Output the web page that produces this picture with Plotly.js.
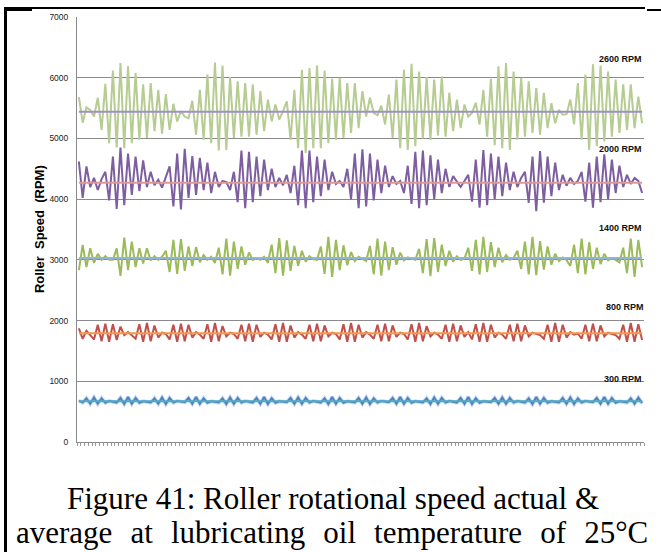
<!DOCTYPE html>
<html><head><meta charset="utf-8">
<script src="https://cdn.plot.ly/plotly-3.0.1.min.js"></script>
<style>
html,body{margin:0;padding:0;background:#fff;}
#wrap{position:relative;width:661px;height:552px;overflow:hidden;background:#fff;}
#chart{position:absolute;left:0;top:0;width:661px;height:552px;}
.bar{position:absolute;background:#000;}
</style></head><body>
<div id="wrap">
<div id="chart"></div>
<div class="bar" style="left:4px;top:8px;width:3px;height:544px"></div>
<div class="bar" style="left:4px;top:7px;width:641px;height:2px"></div>
<div class="bar" style="left:4px;top:8px;width:28px;height:3px"></div>
<div class="bar" style="left:647px;top:9px;width:14px;height:2px"></div>
</div>
<script>
// ---- data ----
const seriesLabels = ["2600 RPM","2000 RPM","1400 RPM","800 RPM","300 RPM"];
const averages = [5440, 4270, 3030, 1790, 672];

const rpm2600 = [5680,5260,5510,5470,5360,5670,5140,5900,4920,6120,
 4850,6240,4840,6190,4920,6080,4980,5890,5010,5910,
 5120,5800,5080,5730,5140,5570,5280,5450,5360,5330,
 5620,5060,5800,4980,6050,4920,6250,4800,6200,4810,
 6010,5010,5940,5030,5910,5030,5890,5060,5780,5120,
 5640,5280,5560,5310,5450,5610,4980,5800,4840,6130,
 4760,6160,4840,6200,4840,6120,4920,5980,4980,6000,
 5010,5910,5090,5910,5170,5780,5360,5670,5420,5380,
 5540,5230,5720,5010,5970,4840,6130,4810,6230,4870,
 6100,5000,6010,4980,5970,5050,6020,5030,5750,5120,
 5640,5170,5560,5360,5420,5590,5230,5800,5030,5980,
 4890,6190,4840,6240,4810,6100,4980,6000,5030,5940,
 5090,5830,5060,5750,5170,5580,5250,5470,5390,5400,
 5640,5230,5910,4980,6050,4810,6220,4870,6200,4950,
 6100,5030,5970,5090,5890,5140,5890,5170,5690,5250];

const rpm2000 = [4620,4020,4540,4200,4350,4150,4330,4450,3980,4700,
 3840,4850,3900,4750,4070,4700,4130,4640,4200,4450,
 4230,4320,4190,4380,4540,3880,4750,3830,4830,4020,
 4710,4070,4680,4150,4600,4100,4450,4200,4300,4280,
 4150,4450,3950,4800,3850,4780,3950,4700,4050,4650,
 4150,4500,4200,4350,4230,4400,4100,4550,3900,4800,
 3850,4800,3950,4700,4050,4650,4150,4450,4250,4300,
 4200,4500,4000,4750,3850,4820,3880,4750,3980,4650,
 4100,4550,4200,4380,4250,4300,4100,4550,3920,4780,
 3850,4800,3900,4720,4000,4650,4100,4500,4200,4380,
 4280,4200,4300,4400,3960,4650,3860,4810,3900,4750,
 4000,4700,4050,4600,4150,4450,4200,4350,4450,3940,
 4700,3800,4790,3940,4700,4050,4600,4150,4400,4220,
 4350,4250,4300,4450,3960,4600,3860,4700,3950,4740,
 4000,4650,4100,4550,4200,4400,4250,4350,4300,4100];

const rpm1400 = [2830,3245,2880,3190,2950,3100,3000,3060,3000,3000,
 3190,2735,3366,2830,3300,2880,3190,2940,3190,2990,
 3060,3000,3050,3150,2800,3330,2770,3340,2820,3220,
 2900,3210,2960,3080,3000,3050,2950,3200,2760,3350,
 2740,3300,2850,3220,2920,3120,3000,3030,3000,3050,
 2950,3250,2780,3360,2740,3320,2820,3230,2900,3150,
 2970,3060,3010,3000,3220,2770,3380,2720,3330,2830,
 3240,2910,3130,2980,3050,3010,2980,3230,2760,3350,
 2740,3300,2830,3210,2920,3120,2990,3040,3020,3000,
 3180,2780,3340,2730,3360,2800,3250,2900,3150,2970,
 3060,3000,3020,3200,2820,3330,2760,3380,2800,3290,
 2880,3200,2960,3080,3000,3030,3150,2850,3300,2760,
 3380,2750,3310,2840,3220,2920,3100,2980,3040,3000,
 2900,3250,2780,3350,2760,3290,2850,3200,2930,3100,
 2990,3030,3000,2960,3200,2780,3350,2720,3330,2880];

const rpm800 = [1870,1700,1830,1760,1690,1930,1660,1950,1650,1940,
 1680,1900,1760,1810,1760,1700,1940,1650,1960,1660,
 1920,1720,1800,1780,1690,1930,1650,1950,1660,1930,
 1720,1810,1770,1700,1940,1650,1960,1660,1910,1740,
 1800,1780,1700,1930,1660,1950,1650,1930,1730,1800,
 1770,1690,1940,1650,1960,1650,1920,1720,1810,1770,
 1700,1930,1660,1950,1660,1920,1740,1800,1780,1690,
 1940,1650,1960,1650,1930,1720,1810,1770,1700,1930,
 1660,1950,1660,1920,1730,1800,1780,1690,1940,1650,
 1960,1660,1910,1740,1800,1770,1700,1930,1650,1950,
 1660,1920,1730,1810,1690,1940,1650,1960,1650,1930,
 1720,1800,1770,1700,1930,1660,1950,1660,1920,1740,
 1800,1780,1760,1700,1930,1650,1960,1650,1930,1720,
 1810,1770,1790,1700,1930,1660,1950,1660,1920,1740,
 1800,1780,1760,1700,1930,1650,1960,1650,1940,1680];

const rpm300 = [680,650,720,630,735,630,720,645,675,660,
 650,725,625,740,630,725,645,670,665,650,
 720,630,735,625,725,650,675,660,655,725,
 630,740,630,720,645,670,665,650,720,625,
 735,630,725,650,675,660,650,725,630,740,
 625,720,645,670,665,655,725,630,735,630,
 725,650,675,660,650,720,625,740,630,725,
 645,670,660,650,725,630,735,625,720,650,
 675,665,655,725,630,740,630,725,645,670,
 660,650,720,625,735,630,725,650,675,660,
 650,725,630,740,625,720,645,670,665,655,
 725,630,735,630,725,650,675,660,650,720,
 625,740,630,725,645,670,665,650,725,630,
 735,625,720,650,675,660,655,725,630,740,
 630,725,645,670,660,650,720,630,730,640];

// ---- drawing ----
const actual = [rpm2600, rpm2000, rpm1400, rpm800, rpm300];
const actualColors = ["#b6cc91", "#7d5ea0", "#9bbb59", "#c0504d", "#4f81bd"];
const avgColors = ["#a08fc8", "#dc9896", "#95b3d7", "#f79646", "#4bacc6"];
const xs = rpm2600.map((_, k) => k + 1);

const traces = [];
actual.forEach((arr, s) => {
  if (s === 4) {
    traces.push({x: xs, y: arr, type: "scatter", mode: "lines",
      line: {color: "rgba(140,175,220,0.45)", width: 4}, hoverinfo: "skip"});
  }
  traces.push({x: xs, y: arr, type: "scatter", mode: "lines",
    line: {color: actualColors[s], width: 2}, name: seriesLabels[s]});
});
averages.forEach((v, s) => {
  traces.push({x: xs, y: xs.map(() => v), type: "scatter", mode: "lines",
    line: {color: avgColors[s], width: 2}, name: seriesLabels[s] + " avg"});
});

const labelY = [6308, 4826, 3525, 2224, 1038];
const labelX = [1.0, 1.0, 1.0, 1.0035, 1.0];
const annotations = seriesLabels.map((t, s) => ({
  text: "<b>" + t + "</b>", xref: "paper", yref: "y", x: labelX[s], y: labelY[s],
  xanchor: "right", yanchor: "middle", showarrow: false,
  font: {family: "Liberation Sans, Arial, sans-serif", size: 9, color: "#111"}
}));
annotations.push({
  text: "<b>Roller\u00a0 Speed\u00a0 (RPM)</b>", xref: "paper", yref: "paper",
  x: -0.067, y: 0.501, xanchor: "center", yanchor: "middle", textangle: -90,
  showarrow: false, font: {family: "Liberation Sans, Arial, sans-serif", size: 13, color: "#000"}
});
annotations.push({
  text: "Figure 41: Roller rotational speed actual &amp;", xref: "paper", yref: "paper",
  x: 0.4515, y: -0.132, xanchor: "center", yanchor: "middle", showarrow: false,
  font: {family: "Liberation Serif, 'Times New Roman', serif", size: 31, color: "#000"}
});
const sp = "\u2002\u200a";
annotations.push({
  text: ["average","at","lubricating","oil","temperature","of","25°C"].join(sp),
  xref: "paper", yref: "paper",
  x: 0.449, y: -0.212, xanchor: "center", yanchor: "middle", showarrow: false,
  font: {family: "Liberation Serif, 'Times New Roman', serif", size: 31, color: "#000"}
});

const layout = {
  width: 661, height: 552,
  margin: {l: 77, r: 17, t: 17, b: 110, pad: 0},
  paper_bgcolor: "rgba(0,0,0,0)", plot_bgcolor: "#fff",
  showlegend: false,
  font: {family: "Liberation Sans, Arial, sans-serif", size: 8.5, color: "#222"},
  xaxis: {range: [0.5, xs.length + 0.5], tickmode: "linear", tick0: 0.5, dtick: 1,
    ticks: "outside", ticklen: 3, tickcolor: "#9a9a9a", tickwidth: 1,
    showticklabels: false, showgrid: false, zeroline: false,
    showline: true, linecolor: "#8a8a8a", linewidth: 1},
  yaxis: {range: [0, 7000], tickmode: "linear", tick0: 0, dtick: 1000, tickformat: "d",
    showgrid: true, gridcolor: "#8a8a8a", gridwidth: 1, zeroline: false,
    showline: true, linecolor: "#8a8a8a", linewidth: 1, ticks: "",
    ticklabelstandoff: 6, tickfont: {size: 8.5, color: "#222"}},
  annotations: annotations
};

Plotly.newPlot("chart", traces, layout, {staticPlot: true, displayModeBar: false});
</script>
</body></html>
